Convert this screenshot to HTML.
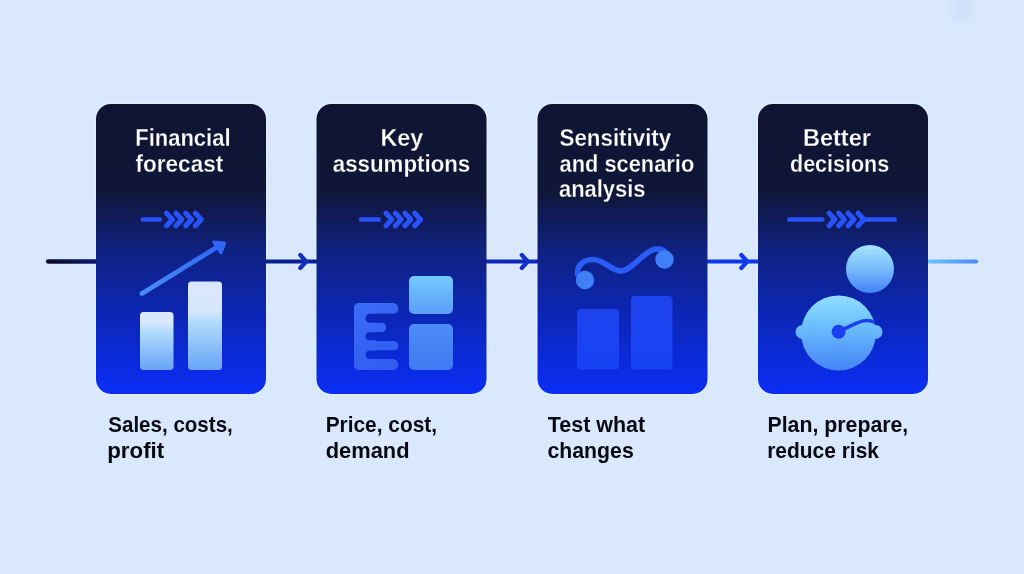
<!DOCTYPE html>
<html><head><meta charset="utf-8">
<style>
html,body{margin:0;padding:0;background:#d9e8fd;}
body{width:1024px;height:574px;overflow:hidden;}
svg{display:block;will-change:transform;}
text{font-family:"Liberation Sans",sans-serif;font-weight:bold;}
.t{fill:#ffffff;font-size:22.5px;stroke:#101535;stroke-width:0.25px;}
.c{fill:#090a10;font-size:21.5px;}
</style></head><body>
<svg width="1024" height="574" viewBox="0 0 1024 574">
<defs>
  <linearGradient id="card" x1="0" y1="104" x2="0" y2="394" gradientUnits="userSpaceOnUse">
    <stop offset="0" stop-color="#0f1432"/>
    <stop offset="0.3" stop-color="#101637"/>
    <stop offset="0.5" stop-color="#0f2180"/>
    <stop offset="0.72" stop-color="#0c26b4"/>
    <stop offset="1" stop-color="#0a2ef6"/>
  </linearGradient>
  <linearGradient id="bar" x1="0" y1="0" x2="0" y2="1">
    <stop offset="0" stop-color="#dbe7fc"/>
    <stop offset="0.2" stop-color="#d6e7fc"/>
    <stop offset="0.34" stop-color="#b2dcfc"/>
    <stop offset="1" stop-color="#68a4f6"/>
  </linearGradient>
  <linearGradient id="bar2" x1="0" y1="0" x2="0" y2="1">
    <stop offset="0" stop-color="#dbe7fc"/>
    <stop offset="0.33" stop-color="#d6e7fc"/>
    <stop offset="0.45" stop-color="#b2dcfc"/>
    <stop offset="1" stop-color="#68a4f6"/>
  </linearGradient>
  <linearGradient id="arr" x1="142" y1="0" x2="220" y2="0" gradientUnits="userSpaceOnUse">
    <stop offset="0" stop-color="#4a8cf8"/>
    <stop offset="1" stop-color="#2f66f6"/>
  </linearGradient>
  <linearGradient id="bigc" x1="0" y1="295" x2="0" y2="371" gradientUnits="userSpaceOnUse">
    <stop offset="0" stop-color="#90defe"/>
    <stop offset="0.35" stop-color="#70c4fd"/>
    <stop offset="0.7" stop-color="#58a0fa"/>
    <stop offset="1" stop-color="#4484f6"/>
  </linearGradient>
  <linearGradient id="sq1" x1="0" y1="0" x2="0" y2="1">
    <stop offset="0" stop-color="#74c8fc"/>
    <stop offset="1" stop-color="#5a9ef8"/>
  </linearGradient>
  <linearGradient id="sq2" x1="0" y1="0" x2="0" y2="1">
    <stop offset="0" stop-color="#4c8cf6"/>
    <stop offset="1" stop-color="#3f7af2"/>
  </linearGradient>
  <linearGradient id="circ" x1="0" y1="0" x2="0" y2="1">
    <stop offset="0" stop-color="#a6e4fe"/>
    <stop offset="0.5" stop-color="#78bcfb"/>
    <stop offset="1" stop-color="#4282f6"/>
  </linearGradient>
  <linearGradient id="tail" x1="928" y1="0" x2="978" y2="0" gradientUnits="userSpaceOnUse">
    <stop offset="0" stop-color="#6ec4fb"/>
    <stop offset="1" stop-color="#4a88f5"/>
  </linearGradient>
  <linearGradient id="l1" x1="46" y1="0" x2="96" y2="0" gradientUnits="userSpaceOnUse">
    <stop offset="0" stop-color="#0a0c24"/>
    <stop offset="1" stop-color="#0c1a70"/>
  </linearGradient>
  <linearGradient id="b3" x1="0" y1="296" x2="0" y2="370" gradientUnits="userSpaceOnUse">
    <stop offset="0" stop-color="#1d43ec"/>
    <stop offset="1" stop-color="#1842f6"/>
  </linearGradient>
  <linearGradient id="eg" x1="354" y1="303" x2="398" y2="370" gradientUnits="userSpaceOnUse">
    <stop offset="0" stop-color="#3b6cf8"/>
    <stop offset="1" stop-color="#2f5cf0"/>
  </linearGradient>
</defs>

<filter id="blr" x="-1" y="-1" width="3" height="3"><feGaussianBlur stdDeviation="3"/></filter>
<rect x="952" y="-6" width="22" height="28" rx="6" fill="#cbdaf8" opacity="0.45" filter="url(#blr)"/>
<rect x="95.2" y="103.2" width="171.6" height="291.6" rx="15.8" fill="none" stroke="#f0f7ff" stroke-width="1.2" opacity="0.4"/>
<rect x="315.7" y="103.2" width="171.6" height="291.6" rx="15.8" fill="none" stroke="#f0f7ff" stroke-width="1.2" opacity="0.4"/>
<rect x="536.7" y="103.2" width="171.6" height="291.6" rx="15.8" fill="none" stroke="#f0f7ff" stroke-width="1.2" opacity="0.4"/>
<rect x="757.2" y="103.2" width="171.6" height="291.6" rx="15.8" fill="none" stroke="#f0f7ff" stroke-width="1.2" opacity="0.4"/>
<!-- connector line -->
<line x1="48" y1="261.5" x2="98" y2="261.5" stroke="url(#l1)" stroke-width="4.3" stroke-linecap="round"/>
<g fill="none" stroke-width="4.2" stroke-linecap="round" stroke-linejoin="round">
  <path d="M264 261.5 H318" stroke="#0b2096"/>
  <path d="M300.3 255 L306.2 261.5 L300.3 268" stroke="#1130bc"/>
  <path d="M485 261.5 H540" stroke="#0d2ab8"/>
  <path d="M521.8 255 L527.7 261.5 L521.8 268" stroke="#1032cc"/>
  <path d="M706 261.5 H760" stroke="#0b36e6"/>
  <path d="M741.3 255 L747.2 261.5 L741.3 268" stroke="#0c3af0"/>
  <path d="M926 261.5 H976" stroke="url(#tail)"/>
</g>

<!-- cards -->
<rect x="96" y="104" width="170" height="290" rx="15" fill="url(#card)"/>
<rect x="316.5" y="104" width="170" height="290" rx="15" fill="url(#card)"/>
<rect x="537.5" y="104" width="170" height="290" rx="15" fill="url(#card)"/>
<rect x="758" y="104" width="170" height="290" rx="15" fill="url(#card)"/>

<!-- titles -->
<!--TXT-->
<text class="t" x="135.20" y="146.20" textLength="95.36" lengthAdjust="spacingAndGlyphs" transform="matrix(1 0 0 1.100 0 -14.620)">Financial</text>
<text class="t" x="135.52" y="171.80" textLength="87.70" lengthAdjust="spacingAndGlyphs" transform="matrix(1 0 0 1.100 0 -17.180)">forecast</text>
<text class="t" x="380.44" y="146.20" textLength="42.78" lengthAdjust="spacingAndGlyphs" transform="matrix(1 0 0 1.100 0 -14.620)">Key</text>
<text class="t" x="332.78" y="172.00" textLength="137.50" lengthAdjust="spacingAndGlyphs" transform="matrix(1 0 0 1.100 0 -17.200)">assumptions</text>
<text class="t" x="559.52" y="146.00" textLength="111.70" lengthAdjust="spacingAndGlyphs" transform="matrix(1 0 0 1.100 0 -14.600)">Sensitivity</text>
<text class="t" x="559.52" y="171.70" textLength="134.72" lengthAdjust="spacingAndGlyphs" transform="matrix(1 0 0 1.100 0 -17.170)">and scenario</text>
<text class="t" x="559.00" y="196.80" textLength="86.48" lengthAdjust="spacingAndGlyphs" transform="matrix(1 0 0 1.100 0 -19.680)">analysis</text>
<text class="t" x="802.96" y="146.00" textLength="68.00" lengthAdjust="spacingAndGlyphs" transform="matrix(1 0 0 1.100 0 -14.600)">Better</text>
<text class="t" x="790.00" y="172.00" textLength="99.24" lengthAdjust="spacingAndGlyphs" transform="matrix(1 0 0 1.100 0 -17.200)">decisions</text>
<text class="c" x="108.26" y="432.00" textLength="124.54" lengthAdjust="spacingAndGlyphs" transform="matrix(1 0 0 1.035 0 -15.120)">Sales, costs,</text>
<text class="c" x="107.20" y="458.10" textLength="57.02" lengthAdjust="spacingAndGlyphs" transform="matrix(1 0 0 1.035 0 -16.033)">profit</text>
<text class="c" x="325.70" y="432.00" textLength="111.32" lengthAdjust="spacingAndGlyphs" transform="matrix(1 0 0 1.035 0 -15.120)">Price, cost,</text>
<text class="c" x="325.76" y="458.10" textLength="83.78" lengthAdjust="spacingAndGlyphs" transform="matrix(1 0 0 1.035 0 -16.033)">demand</text>
<text class="c" x="547.80" y="432.00" textLength="97.42" lengthAdjust="spacingAndGlyphs" transform="matrix(1 0 0 1.035 0 -15.120)">Test what</text>
<text class="c" x="547.48" y="458.10" textLength="86.28" lengthAdjust="spacingAndGlyphs" transform="matrix(1 0 0 1.035 0 -16.033)">changes</text>
<text class="c" x="767.46" y="432.00" textLength="140.84" lengthAdjust="spacingAndGlyphs" transform="matrix(1 0 0 1.035 0 -15.120)">Plan, prepare,</text>
<text class="c" x="767.20" y="458.10" textLength="111.76" lengthAdjust="spacingAndGlyphs" transform="matrix(1 0 0 1.035 0 -16.033)">reduce risk</text>
<!--/TXT-->
<!-- chevrons -->
<g fill="none" stroke="#2852fa" stroke-linecap="round" stroke-linejoin="round">
  <path stroke-width="4.4" d="M142.7 219.5 H159.8 M361 219.5 H378.8 M789.2 219.5 H822.4 M863 219.5 H894.8"/>
  <path stroke-width="5" d="M166.6 213.2 L172.4 219.5 L166.6 225.8 M176.0 213.2 L181.8 219.5 L176.0 225.8 M185.8 213.2 L191.6 219.5 L185.8 225.8 M195.4 213.2 L201.2 219.5 L195.4 225.8 M386.0 213.2 L391.8 219.5 L386.0 225.8 M395.4 213.2 L401.2 219.5 L395.4 225.8 M405.0 213.2 L410.8 219.5 L405.0 225.8 M414.8 213.2 L420.6 219.5 L414.8 225.8 M829.1 213.2 L834.9 219.5 L829.1 225.8 M838.7 213.2 L844.5 219.5 L838.7 225.8 M848.2 213.2 L854.0 219.5 L848.2 225.8 M858.1 213.2 L863.9 219.5 L858.1 225.8"/>
</g>

<!-- card1 icon -->
<line x1="142" y1="293.5" x2="219" y2="246" stroke="url(#arr)" stroke-width="4.8" stroke-linecap="round"/>
<path d="M214 242 L224.5 243.2 L221 252.5 Z" fill="#2f68f6" stroke="#2f68f6" stroke-width="3.2" stroke-linejoin="round"/>
<rect x="140" y="312" width="33.5" height="58" rx="3.5" fill="url(#bar)"/>
<rect x="188" y="281.5" width="34" height="88.5" rx="3.5" fill="url(#bar2)"/>

<!-- card2 icon -->
<mask id="em" maskUnits="userSpaceOnUse" x="340" y="290" width="80" height="90">
  <rect x="340" y="290" width="80" height="90" fill="#fff"/>
  <rect x="365.5" y="313.7" width="60" height="9" rx="4.5" fill="#000"/>
  <rect x="365.5" y="332.2" width="60" height="8" rx="4" fill="#000"/>
  <rect x="365.5" y="350.5" width="60" height="8.5" rx="4.25" fill="#000"/>
</mask>
<g mask="url(#em)" fill="url(#eg)">
  <rect x="354" y="303" width="22" height="67" rx="5"/>
  <rect x="354" y="303" width="44.3" height="10.7" rx="5.3"/>
  <rect x="354" y="322.7" width="32.2" height="9.6" rx="4.8"/>
  <rect x="354" y="341" width="44.3" height="9.5" rx="4.75"/>
  <rect x="354" y="359" width="44.3" height="11" rx="5.5"/>
</g>
<rect x="409" y="276" width="44" height="38" rx="5" fill="url(#sq1)"/>
<rect x="409" y="324" width="44" height="46" rx="5" fill="url(#sq2)"/>

<!-- card3 icon -->
<path d="M577.5 274 C577 264 585 259.5 593 259.5 C604 259.5 611 271 621 271 C632 271 645 249 657 249 C661 249 664.5 250.5 666 253" fill="none" stroke="#2a5cf6" stroke-width="5.6" stroke-linecap="round"/>
<circle cx="585" cy="280" r="9.2" fill="#3f80f8"/>
<circle cx="664.5" cy="259.5" r="9.2" fill="#3f80f8"/>
<rect x="577" y="309" width="42" height="60.5" rx="4" fill="url(#b3)"/>
<rect x="631" y="296" width="41.5" height="73.5" rx="4" fill="url(#b3)"/>

<!-- card4 icon -->
<circle cx="870" cy="269" r="24" fill="url(#circ)"/>
<clipPath id="bcc"><circle cx="838.5" cy="333" r="37.5"/></clipPath>
<g fill="url(#bigc)">
  <rect x="795.5" y="325" width="87" height="14" rx="7"/>
  <circle cx="838.5" cy="333" r="37.5"/>
</g>
<path d="M839 331.5 L857 323 C864 319.5 870 319.5 876 323" fill="none" stroke="#1a40f0" stroke-width="3.6" stroke-linecap="round" clip-path="url(#bcc)"/>
<circle cx="838.6" cy="331.8" r="7" fill="#1a40f0"/>

</svg>
</body></html>
